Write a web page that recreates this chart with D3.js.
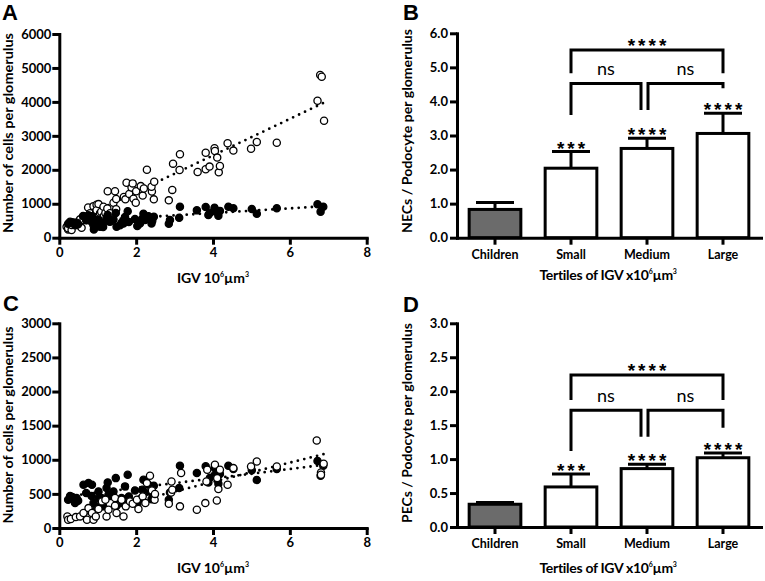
<!DOCTYPE html>
<html lang="en">
<head>
<meta charset="UTF-8">
<title>IGV panels</title>
<script src="https://cdn.jsdelivr.net/npm/d3@7"></script>
<style>
  body { margin: 0; background: #fff; }
  svg text { font-family: Lato, "Open Sans", sans-serif; fill: #000; }
</style>
</head>
<body>
<svg id="fig" width="765" height="581"></svg>
<script>
// ---- scatter data (A and C share the filled series) ----
var xTicksIGV = [0, 2, 4, 6, 8];
var yTicksA = [0, 1000, 2000, 3000, 4000, 5000, 6000];
var yTicksC = [0, 500, 1000, 1500, 2000, 2500, 3000];

var filledX = [0.23,0.28,0.34,0.41,0.45,0.49,0.63,0.70,0.76,0.85,0.84,0.89,0.90,1.02,1.02,1.06,1.10,1.14,1.23,1.26,1.28,1.32,1.41,1.47,1.49,1.58,1.62,1.67,1.71,1.78,1.81,1.97,2.03,2.10,2.16,2.19,2.23,2.32,2.40,2.42,2.46,2.85,2.88,3.12,3.14,3.58,3.81,3.88,3.92,4.04,4.05,4.14,4.18,4.40,4.53,5.01,5.14,5.66,6.72,6.80,6.87];
var filledY = [414,470,453,366,440,400,634,512,658,634,470,366,245,536,440,325,440,317,585,668,488,470,536,731,325,366,440,420,610,780,463,551,345,420,560,707,520,634,420,500,620,414,520,585,913,805,905,668,735,884,780,650,790,913,865,845,705,865,983,766,913];

var openAX = [0.19,0.23,0.23,0.28,0.32,0.32,0.41,0.48,0.50,0.54,0.58,0.62,0.63,0.71,0.75,0.80,0.83,0.89,0.96,0.97,0.97,1.02,1.06,1.09,1.15,1.16,1.20,1.25,1.26,1.32,1.41,1.45,1.48,1.48,1.68,1.72,1.75,1.82,1.88,1.91,1.93,1.99,2.00,2.12,2.17,2.20,2.28,2.41,2.40,2.46,2.47,2.85,2.94,2.96,3.13,3.14,3.60,3.81,3.81,3.91,4.04,4.05,4.11,4.15,4.18,4.38,4.53,4.99,5.14,5.66,6.72,6.79,6.83,6.89];
var openAY = [320,245,280,420,225,375,440,425,370,540,290,640,520,520,890,720,620,930,795,970,810,990,720,765,910,640,730,860,1367,720,1030,1367,1140,840,1200,1130,1620,1290,1480,1600,1150,1030,1370,1520,1240,1450,2000,1360,1500,1130,1650,1100,1408,2181,1996,2456,1937,2016,2504,2094,2633,2555,2360,1925,2112,2780,2566,2622,2819,2798,4036,4792,4742,3446];

var openCX = [0.21,0.23,0.30,0.43,0.54,0.63,0.72,0.76,0.85,0.89,0.95,1.02,1.11,1.20,1.23,1.28,1.45,1.45,1.49,1.62,1.67,1.73,1.84,1.91,2.02,2.06,2.17,2.24,2.28,2.36,2.41,2.48,2.49,2.85,2.91,2.94,2.92,3.14,3.17,3.58,3.80,3.83,3.85,4.05,4.10,4.11,4.14,4.18,4.38,4.53,4.99,5.14,5.66,6.70,6.81,6.81,6.88];
var openCY = [170,120,131,160,170,219,120,292,219,120,170,278,390,414,170,268,327,440,219,414,170,317,390,356,414,278,463,366,658,765,551,414,500,356,520,560,682,317,805,268,365,682,853,926,404,731,570,853,633,878,902,975,902,1282,814,780,941];

// regression lines: [intercept, slope]
var fitFilled = [450, 69];
var fitOpenA = [271, 538];
var fitOpenC = [112, 141];

// ---- bar data ----
var groups = ["Children", "Small", "Medium", "Large"];
var necMean = [0.83, 2.04, 2.62, 3.06];
var necErrTop = [1.03, 2.53, 2.92, 3.65];
var pecMean = [0.335, 0.59, 0.86, 1.02];
var pecErrTop = [0.36, 0.78, 0.925, 1.09];
var barStars = ["", "***", "****", "****"];
var yTicksB = [0, 1, 2, 3, 4, 5, 6];
var yTicksD = [0, 0.5, 1, 1.5, 2, 2.5, 3];
// [from, to, bracket level, left leg end, right leg end, label]
var bracketsB = [["Small","Large",5.51,4.83,4.83,"****"], ["Small","Medium",4.53,3.6,3.75,"ns"], ["Medium","Large",4.53,3.75,4.39,"ns"]];
var bracketsD = [["Small","Large",2.24,1.87,1.87,"****"], ["Small","Medium",1.72,1.12,1.33,"ns"], ["Medium","Large",1.72,1.33,1.46,"ns"]];

var svg = d3.select("#fig");
var LW = 3;
var STAR_FONT = "'Liberation Sans', Arial, sans-serif";

function styleAxis(g) {
    g.attr("font-family", "Lato, sans-serif").attr("font-size", 13).attr("font-weight", "bold");
    g.select(".domain").attr("stroke-width", LW).attr("stroke-linecap", "square");
    g.selectAll(".tick line").attr("stroke-width", LW);
}

function igvTitle(x, y) {
    var t = svg.append("text").attr("x", x).attr("y", y)
        .attr("text-anchor", "middle").attr("font-size", 14).attr("font-weight", "bold");
    t.append("tspan").text("IGV 10");
    t.append("tspan").attr("font-size", 7).attr("dy", -6).text("6");
    t.append("tspan").attr("dy", 6).text("\u00b5m");
    t.append("tspan").attr("font-size", 7).attr("dy", -6).text("3");
}

function tertTitle(x, y) {
    var t = svg.append("text").attr("x", x).attr("y", y)
        .attr("text-anchor", "middle").attr("font-size", 14).attr("font-weight", "bold")
        .attr("letter-spacing", -0.3);
    t.append("tspan").text("Tertiles of IGV x10");
    t.append("tspan").attr("font-size", 7).attr("dy", -6).text("6");
    t.append("tspan").attr("dy", 6).text("\u00b5m");
    t.append("tspan").attr("font-size", 7).attr("dy", -6).text("3");
}

function yTitle(txt, x, cy, len) {
    svg.append("text").attr("transform", "translate(" + x + "," + cy + ") rotate(-90)")
        .attr("text-anchor", "middle").attr("font-size", 13.5).attr("font-weight", "bold")
        .attr("textLength", len).attr("lengthAdjust", "spacingAndGlyphs").text(txt);
}

function letter(txt, x, y) {
    svg.append("text").attr("x", x).attr("y", y).attr("font-size", 22)
        .attr("font-weight", "bold").style("font-family", "'Liberation Sans', Arial, sans-serif").text(txt);
}

function scatterPanel(p) {
    var x = d3.scaleLinear().domain([0, 8]).range([59.3, 366.7]);
    var y = d3.scaleLinear().domain([0, p.yMax]).range([p.y0, p.yTop]);
    var g = svg.append("g");

    g.append("g").attr("transform", "translate(0," + p.y0 + ")")
        .call(d3.axisBottom(x).tickValues(xTicksIGV).tickSize(7).tickSizeOuter(0).tickPadding(3))
        .call(styleAxis);
    g.append("g").attr("transform", "translate(59.3,0)")
        .call(d3.axisLeft(y).tickValues(p.yTicks).tickFormat(d3.format("d")).tickSize(7).tickSizeOuter(0).tickPadding(1))
        .call(styleAxis);

    // dotted regression lines
    p.fits.forEach(function (f) {
        var xs = d3.extent(f.xs);
        g.append("line")
            .attr("x1", x(xs[0])).attr("y1", y(f.fit[0] + f.fit[1] * xs[0]))
            .attr("x2", x(xs[1])).attr("y2", y(f.fit[0] + f.fit[1] * xs[1]))
            .attr("stroke", "#000").attr("stroke-width", 2.8)
            .attr("stroke-linecap", "round").attr("stroke-dasharray", "0,6.6");
    });

    p.series.forEach(function (s) {
        g.append("g").selectAll("circle").data(s.xs).join("circle")
            .attr("cx", function (d) { return x(d); })
            .attr("cy", function (d, i) { return y(s.ys[i]); })
            .attr("r", 3.6)
            .attr("fill", s.filled ? "#000" : "#fff")
            .attr("stroke", "#000").attr("stroke-width", 1.3);
    });
}

function barPanel(p) {
    var x = d3.scaleBand().domain(groups).range([457, 761]).paddingInner(0.32).paddingOuter(0.16);
    var y = d3.scaleLinear().domain([0, p.yMax]).range([p.y0, p.yTop]);
    var g = svg.append("g");
    var bw = x.bandwidth();
    var cx = function (k) { return x(k) + bw / 2; };

    // error bars (upper only)
    groups.forEach(function (k, i) {
        g.append("line").attr("x1", cx(k)).attr("x2", cx(k))
            .attr("y1", y(p.mean[i])).attr("y2", y(p.err[i]))
            .attr("stroke", "#000").attr("stroke-width", LW);
        g.append("line").attr("x1", cx(k) - 19).attr("x2", cx(k) + 19)
            .attr("y1", y(p.err[i])).attr("y2", y(p.err[i]))
            .attr("stroke", "#000").attr("stroke-width", LW);
        if (barStars[i]) {
            g.append("text").attr("x", cx(k) + 1.5).attr("y", y(p.err[i]) + 3)
                .attr("text-anchor", "middle").attr("font-size", 19).attr("font-weight", "bold")
                .attr("letter-spacing", 3).style("font-family", STAR_FONT)
                .text(barStars[i]);
        }
    });

    g.selectAll("rect").data(groups).join("rect")
        .attr("x", function (d) { return x(d); })
        .attr("y", function (d, i) { return y(p.mean[i]); })
        .attr("width", bw)
        .attr("height", function (d, i) { return p.y0 - y(p.mean[i]); })
        .attr("fill", function (d, i) { return i === 0 ? "#6b6b6b" : "#fff"; })
        .attr("stroke", "#000").attr("stroke-width", LW);

    g.append("g").attr("transform", "translate(0," + p.y0 + ")")
        .call(d3.axisBottom(x).tickSize(7).tickSizeOuter(0).tickPadding(5))
        .call(styleAxis)
        .attr("font-size", 12.5);
    g.append("g").attr("transform", "translate(457,0)")
        .call(d3.axisLeft(y).tickValues(p.yTicks).tickFormat(d3.format(".1f")).tickSize(7).tickSizeOuter(0).tickPadding(2))
        .call(styleAxis);

    // significance brackets
    var legShift = [[0, 0], [0, -6], [1, 0]];
    p.brackets.forEach(function (b, j) {
        var xa = cx(b[0]) + legShift[j][0], xb = cx(b[1]) + legShift[j][1];
        var path = d3.path();
        path.moveTo(xa, y(b[3]));
        path.lineTo(xa, y(b[2]));
        path.lineTo(xb, y(b[2]));
        path.lineTo(xb, y(b[4]));
        g.append("path").attr("d", path.toString()).attr("fill", "none")
            .attr("stroke", "#000").attr("stroke-width", LW).attr("stroke-linejoin", "miter");
        var isNs = b[5] === "ns";
        var t = g.append("text").attr("x", (xa + xb) / 2 + (isNs ? 0 : 1.5))
            .attr("y", isNs ? y(b[2]) - 8 : y(b[2]) + 2)
            .attr("text-anchor", "middle")
            .text(b[5]);
        if (isNs) t.attr("font-size", 18);
        else t.attr("font-size", 19).attr("font-weight", "bold").attr("letter-spacing", 3).style("font-family", STAR_FONT);
    });
}

// Panel A
scatterPanel({
    y0: 237.7, yTop: 34, yMax: 6000, yTicks: yTicksA,
    fits: [{ xs: openAX, fit: fitOpenA }, { xs: filledX, fit: fitFilled }],
    series: [{ xs: openAX, ys: openAY, filled: false }, { xs: filledX, ys: filledY, filled: true }]
});
// Panel C
scatterPanel({
    y0: 528, yTop: 323.3, yMax: 3000, yTicks: yTicksC,
    fits: [{ xs: openCX, fit: fitOpenC }, { xs: filledX, fit: fitFilled }],
    series: [{ xs: filledX, ys: filledY, filled: true }, { xs: openCX, ys: openCY, filled: false }]
});
// Panel B
barPanel({ y0: 237.7, yTop: 33.3, yMax: 6, yTicks: yTicksB, mean: necMean, err: necErrTop, brackets: bracketsB });
// Panel D
barPanel({ y0: 527, yTop: 323.3, yMax: 3, yTicks: yTicksD, mean: pecMean, err: pecErrTop, brackets: bracketsD });

yTitle("Number of cells per glomerulus", 13, 133, 200);
yTitle("Number of cells per glomerulus", 13, 425, 197);
yTitle("NECs / Podocyte per glomerulus", 412, 131, 204);
yTitle("PECs / Podocyte per glomerulus", 412, 423, 200);
igvTitle(213, 283);
igvTitle(213, 573);
tertTitle(608, 280);
tertTitle(608, 573);
letter("A", 2, 20);
letter("B", 403, 20);
letter("C", 3, 311);
letter("D", 403, 312);
</script>
</body>
</html>
